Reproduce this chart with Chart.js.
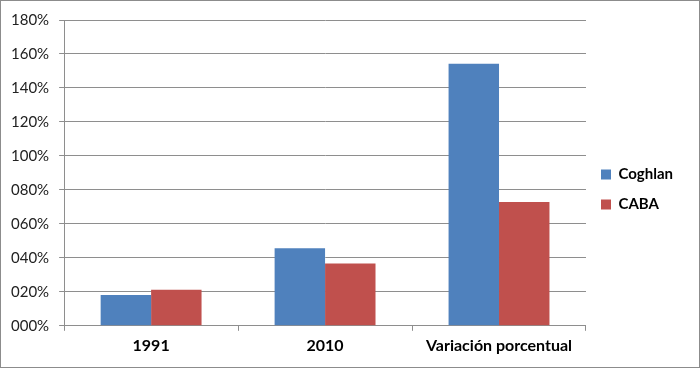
<!DOCTYPE html>
<html>
<head>
<meta charset="utf-8">
<script src="https://cdn.jsdelivr.net/npm/chart.js@4"></script>
<style>
  body { margin: 0; background: #fff; }
  #wrap { width: 700px; height: 368px; box-sizing: border-box; border: 1px solid #8c8c8c; }
  canvas { display: block; }
</style>
</head>
<body>
<div id="wrap"><canvas id="chart" width="698" height="366"></canvas></div>
<script>
// categories and series (percent values)
const categories = ['1991', '2010', 'Variación porcentual'];
const coghlan = [18.1, 45.7, 154.3];
const caba = [21.2, 36.6, 72.8];
const yTicks = [0, 20, 40, 60, 80, 100, 120, 140, 160, 180];

const fontFamily = 'Lato, "Open Sans", sans-serif';
const gridColor = '#8e8e8e';

const ctx = document.getElementById('chart').getContext('2d');
new Chart(ctx, {
    type: 'bar',
    data: {
        labels: categories,
        datasets: [
            { label: 'Coghlan', data: coghlan, backgroundColor: '#4f81bd' },
            { label: 'CABA', data: caba, backgroundColor: '#c0504d' }
        ]
    },
    options: {
        responsive: false,
        animation: false,
        layout: { padding: { left: 0, top: 18, right: 16, bottom: 7 } },
        datasets: { bar: { categoryPercentage: 0.58, barPercentage: 1.0 } },
        plugins: {
            legend: {
                position: 'right',
                align: 'center',
                labels: {
                    boxWidth: 10,
                    boxHeight: 10,
                    padding: 15,
                    color: '#000',
                    font: { family: fontFamily, size: 15, weight: 'bold' }
                }
            },
            tooltip: { enabled: false }
        },
        scales: {
            x: {
                grid: { display: true, drawOnChartArea: false, drawTicks: true, tickLength: 5, color: gridColor, offset: true },
                border: { color: gridColor },
                ticks: { color: '#000', padding: 5, maxRotation: 0, font: { family: fontFamily, size: 16, weight: 'bold' } }
            },
            y: {
                min: 0,
                max: 180,
                afterBuildTicks: (axis) => { axis.ticks = yTicks.map(v => ({ value: v })); },
                grid: { color: gridColor, tickLength: 5 },
                border: { color: gridColor },
                ticks: {
                    color: '#222',
                    padding: 10,
                    font: { family: fontFamily, size: 15 },
                    callback: (v) => String(v).padStart(3, '0') + '%'
                }
            }
        }
    }
});
</script>
</body>
</html>
